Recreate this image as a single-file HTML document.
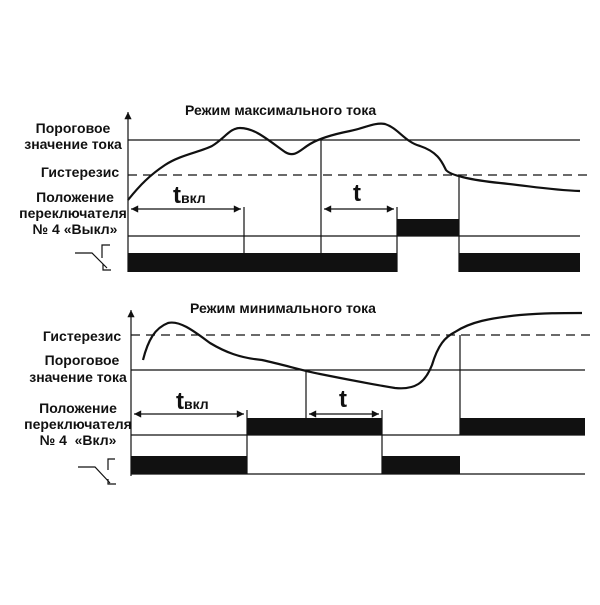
<!DOCTYPE html>
<html><head><meta charset="utf-8"><style>
body{margin:0;background:#fff}
svg text{font-family:"Liberation Sans",sans-serif;font-weight:bold;fill:#111}
</style></head><body>
<svg width="600" height="600" viewBox="0 0 600 600" xmlns="http://www.w3.org/2000/svg">
<defs><marker id="a" viewBox="0 0 10 10" refX="10" refY="5" markerWidth="8" markerHeight="6" orient="auto-start-reverse"><path d="M0,0L10,5L0,10z" fill="#111"/></marker></defs>
<g stroke="#111" fill="none" stroke-width="1.2">
<line x1="128" y1="272" x2="128" y2="112" marker-end="url(#a)"/>
<line x1="128" y1="140" x2="580" y2="140"/>
<line x1="128" y1="175" x2="590" y2="175" stroke-dasharray="9,6"/>
<line x1="128" y1="236" x2="580" y2="236"/>
<line x1="244" y1="207" x2="244" y2="253"/>
<line x1="321" y1="140" x2="321" y2="253"/>
<line x1="459" y1="175" x2="459" y2="272"/>
<line x1="397" y1="207" x2="397" y2="272"/>
<line x1="131" y1="209" x2="241" y2="209" marker-start="url(#a)" marker-end="url(#a)"/>
<line x1="324" y1="209" x2="394" y2="209" marker-start="url(#a)" marker-end="url(#a)"/>
<path stroke-width="2.2" d="M128,200 C140,185 150,175 165,165 C180,155 200,152 212,146 C225,138 230,128 240,128 C255,128 268,140 285,152 C295,158 300,150 310,144 C320,138 335,134 350,131 C365,128 375,122 385,124 C398,128 405,142 420,146 C438,152 442,162 446,170 C450,175 470,180 500,183 C530,186 550,190 580,191"/>
<path d="M75,253 L92,253 L107,268 M110,245 L102,245 L102,258 M103,264 L103,270 L111,270"/>
<line x1="131" y1="476" x2="131" y2="310" marker-end="url(#a)"/>
<line x1="131" y1="335" x2="590" y2="335" stroke-dasharray="9,6"/>
<line x1="131" y1="370" x2="585" y2="370"/>
<line x1="131" y1="435" x2="585" y2="435"/>
<line x1="131" y1="474" x2="585" y2="474"/>
<line x1="306" y1="370" x2="306" y2="418"/>
<line x1="460" y1="335" x2="460" y2="435"/>
<line x1="247" y1="410" x2="247" y2="474"/>
<line x1="382" y1="410" x2="382" y2="474"/>
<line x1="134" y1="414" x2="244" y2="414" marker-start="url(#a)" marker-end="url(#a)"/>
<line x1="309" y1="414" x2="379" y2="414" marker-start="url(#a)" marker-end="url(#a)"/>
<path stroke-width="2.2" d="M143,360 C148,340 155,328 168,323 C180,320 195,332 210,343 C225,352 240,358 262,360 C285,365 300,370 320,374 C345,379 370,384 395,388 C415,390 425,383 432,365 C438,345 445,337 455,332 C470,322 490,318 520,315 C545,313 560,313 582,313"/>
<path d="M78,467 L95,467 L110,483 M115,459 L108,459 L108,470 M108,479 L108,484 L116,484"/>
</g>
<g fill="#111">
<rect x="128" y="253" width="269" height="19"/>
<rect x="397" y="219" width="62" height="17"/>
<rect x="459" y="253" width="121" height="19"/>
<rect x="131" y="456" width="116" height="18"/>
<rect x="247" y="418" width="135" height="17"/>
<rect x="382" y="456" width="78" height="18"/>
<rect x="460" y="418" width="125" height="17"/>
</g>
<g font-size="14">
<text x="185" y="115">Режим максимального тока</text>
<text x="73" y="133" text-anchor="middle">Пороговое</text>
<text x="73" y="149" text-anchor="middle">значение тока</text>
<text x="80" y="177" text-anchor="middle">Гистерезис</text>
<text x="75" y="202" text-anchor="middle">Положение</text>
<text x="73" y="218" text-anchor="middle">переключателя</text>
<text x="75" y="234" text-anchor="middle">№ 4 «Выкл»</text>
<text x="190" y="313">Режим минимального тока</text>
<text x="82" y="341" text-anchor="middle">Гистерезис</text>
<text x="82" y="365" text-anchor="middle">Пороговое</text>
<text x="78" y="382" text-anchor="middle">значение тока</text>
<text x="78" y="413" text-anchor="middle">Положение</text>
<text x="78" y="429" text-anchor="middle">переключателя</text>
<text x="78" y="445" text-anchor="middle">№ 4 &#160;«Вкл»</text>
</g>
<text x="173" y="203" font-size="24">t<tspan font-size="14">вкл</tspan></text>
<text x="353" y="201" font-size="24">t</text>
<text x="176" y="409" font-size="24">t<tspan font-size="14">вкл</tspan></text>
<text x="339" y="407" font-size="24">t</text>
</svg>
</body></html>
